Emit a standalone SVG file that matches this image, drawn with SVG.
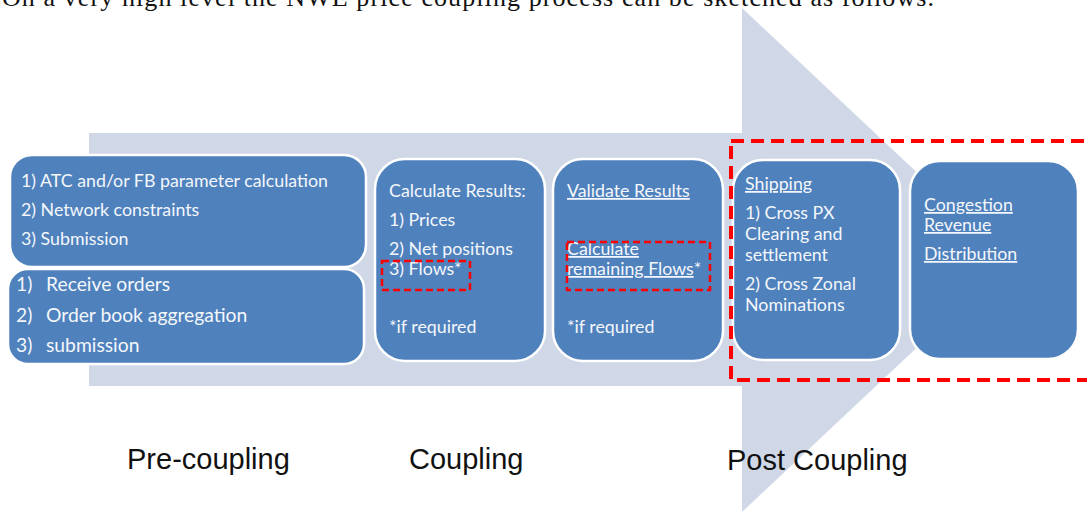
<svg xmlns="http://www.w3.org/2000/svg" width="1087" height="511" viewBox="0 0 1087 511">
<style>
.box{fill:#4F81BD;stroke:#FFFFFF;stroke-width:2.5}
.t{font-family:Lato,"Open Sans",sans-serif;fill:#F4F7FB;font-size:17.8px}
.tb{font-family:Lato,"Open Sans",sans-serif;fill:#F4F7FB;font-size:19.3px}
.u{text-decoration:underline}
.lab{font-family:"Liberation Sans",Arial,sans-serif;fill:#111111;font-size:29px}
.red{fill:none;stroke:#FF0000;stroke-width:2.5;stroke-dasharray:7 4}
.redbig{fill:none;stroke:#FF0000;stroke-width:4;stroke-dasharray:13 7}
</style>
<rect width="1087" height="511" fill="#FFFFFF"/>
<text x="2" y="6" font-family="'Liberation Serif',serif" font-size="26" fill="#111111" textLength="932" lengthAdjust="spacing">On a very high level the NWE price coupling process can be sketched as follows.</text>
<g id="arrow">
<polygon points="89,133 742,133 742,8 1010,260 742,512 742,386 89,386" fill="#D0D8E8"/>
</g>
<g id="pre-top">
<rect class="box" x="10" y="155" width="356" height="112" rx="22"/>
<text class="t" x="21" y="187">1) ATC and/or FB parameter calculation</text>
<text class="t" x="21" y="216">2) Network constraints</text>
<text class="t" x="21" y="245">3) Submission</text>
</g>
<g id="pre-bottom">
<rect class="box" x="8" y="269" width="356" height="95" rx="20"/>
<text class="tb" x="16" y="291">1)<tspan x="46">Receive orders</tspan></text>
<text class="tb" x="16" y="322">2)<tspan x="46">Order book aggregation</tspan></text>
<text class="tb" x="16" y="352">3)<tspan x="46">submission</tspan></text>
</g>
<g id="coupling">
<rect class="box" x="375" y="159" width="170" height="202" rx="30"/>
<text class="t" x="389" y="197">Calculate Results:</text>
<text class="t" x="389" y="226">1) Prices</text>
<text class="t" x="389" y="255">2) Net positions</text>
<text class="t" x="389" y="275">3) Flows*</text>
<text class="t" x="389" y="333">*if required</text>
<rect class="red" x="382" y="261" width="88" height="29"/>
</g>
<g id="validate">
<rect class="box" x="553" y="159" width="170" height="202" rx="30"/>
<text class="t u" x="567" y="197">Validate Results</text>
<text class="t u" x="567" y="255">Calculate</text>
<text class="t" x="567" y="275"><tspan class="u">remaining Flows</tspan>*</text>
<text class="t" x="567" y="333">*if required</text>
<rect class="red" x="567" y="242" width="143" height="48"/>
</g>
<g id="shipping">
<rect class="box" x="733" y="160" width="167" height="200" rx="30"/>
<text class="t u" x="745" y="190">Shipping</text>
<text class="t" x="745" y="219">1) Cross PX</text>
<text class="t" x="745" y="240">Clearing and</text>
<text class="t" x="745" y="261">settlement</text>
<text class="t" x="745" y="290">2) Cross Zonal</text>
<text class="t" x="745" y="311">Nominations</text>
</g>
<g id="congestion">
<rect class="box" x="910" y="161" width="168" height="198" rx="30"/>
<text class="t u" x="924" y="211">Congestion</text>
<text class="t u" x="924" y="231">Revenue</text>
<text class="t u" x="924" y="260">Distribution</text>
</g>
<g id="post-highlight">
<rect class="redbig" x="731" y="141" width="400" height="239"/>
</g>
<g id="labels">
<text class="lab" x="127" y="469">Pre-coupling</text>
<text class="lab" x="409" y="469">Coupling</text>
<text class="lab" x="727" y="470">Post Coupling</text>
</g>
<g id="connectors"></g>
</svg>
